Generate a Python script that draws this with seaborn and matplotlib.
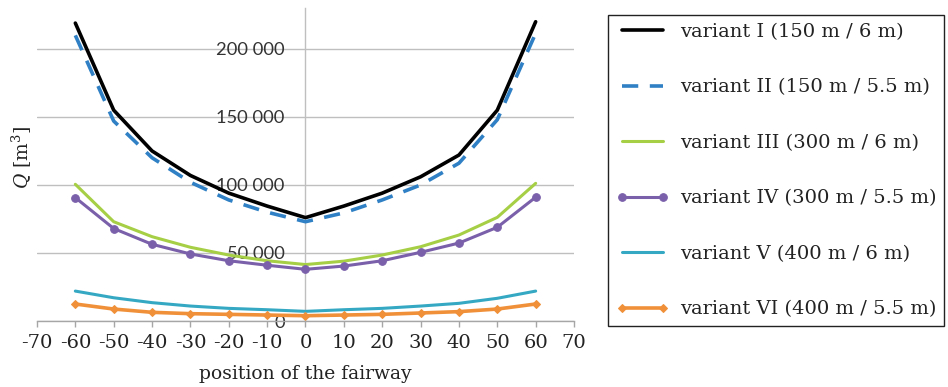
import matplotlib
matplotlib.use("Agg")
import matplotlib.pyplot as plt
import matplotlib.ticker as mticker
import numpy as np
import pandas as pd
import seaborn as sns

# Fairway positions (m)
positions = [-60, -50, -40, -30, -20, -10, 0, 10, 20, 30, 40, 50, 60]

# Dredging volume Q [m^3] for each variant
variant_1 = [219000, 155000, 125000, 107000, 94000, 84500, 76000, 84500, 94000, 106000, 122000, 155000, 220000]
variant_2 = [210000, 147000, 120000, 102000, 89000, 80000, 73000, 79500, 89000, 100000, 116000, 148000, 211500]
variant_3 = [100500, 73000, 62000, 54200, 48500, 44300, 41500, 44000, 48500, 54600, 63200, 76200, 101200]
variant_4 = [90700, 68000, 56400, 49300, 44300, 41000, 38000, 40400, 44300, 50500, 57300, 68900, 91000]
variant_5 = [22000, 17100, 13500, 11000, 9300, 8300, 7100, 8300, 9300, 11000, 13000, 16700, 22000]
variant_6 = [12500, 8800, 6400, 5400, 4900, 4400, 3900, 4400, 4900, 5900, 6900, 8800, 12500]

labels = [
    "variant I (150 m / 6 m)",
    "variant II (150 m / 5.5 m)",
    "variant III (300 m / 6 m)",
    "variant IV (300 m / 5.5 m)",
    "variant V (400 m / 6 m)",
    "variant VI (400 m / 5.5 m)",
]
series = [variant_1, variant_2, variant_3, variant_4, variant_5, variant_6]

y_ticks = [0, 50000, 100000, 150000, 200000]
x_ticks = [-70, -60, -50, -40, -30, -20, -10, 0, 10, 20, 30, 40, 50, 60, 70]

styles = [
    dict(color="#000000", lw=2.6),
    dict(color="#2f80c4", lw=2.6, dashes=(4.5, 3.2)),
    dict(color="#a6cf46", lw=2.2),
    dict(color="#7a5faa", lw=2.2, marker="o", ms=5.5),
    dict(color="#35a9c3", lw=2.2),
    dict(color="#f0913a", lw=2.6, marker="D", ms=4.5),
]

df = pd.DataFrame(
    [(x, v, lab) for lab, vals in zip(labels, series) for x, v in zip(positions, vals)],
    columns=["position", "Q", "variant"],
)

sns.set_style("white")
plt.rcParams["mathtext.fontset"] = "dejavuserif"
serif = "DejaVu Serif"
grid_grey = "#bfbfbf"
text_col = "#222222"

fig = plt.figure(figsize=(9.48, 3.87), dpi=100)
ax = fig.add_axes([0.039, 0.1705, 0.5665, 0.8085])

for lab, st in zip(labels, styles):
    sub = df[df["variant"] == lab]
    kw = dict(color=st["color"], linewidth=st["lw"], label=lab,
              solid_joinstyle="round", solid_capstyle="round")
    if "marker" in st:
        kw.update(marker=st["marker"], markersize=st["ms"],
                  markeredgecolor=st["color"], markerfacecolor=st["color"])
    line = sns.lineplot(data=sub, x="position", y="Q", ax=ax, **kw).lines[-1]
    if "dashes" in st:
        line.set_dashes(st["dashes"])
        line.set_dash_capstyle("butt")

ax.set_xlim(-70, 70)
ax.set_ylim(0, 230000)
ax.set_xticks(x_ticks)
ax.set_yticks(y_ticks)
ax.xaxis.set_major_formatter(mticker.FuncFormatter(lambda v, p: f"{int(v)}"))
ax.yaxis.set_major_formatter(mticker.FuncFormatter(
    lambda v, p: f"{int(v):,}".replace(",", " ")))

ax.grid(axis="y", color=grid_grey, linewidth=1.0)
ax.grid(axis="x", visible=False)
ax.set_axisbelow(True)

for side in ("top", "right"):
    ax.spines[side].set_visible(False)
ax.spines["left"].set_position(("data", 0))
ax.spines["left"].set_color(grid_grey)
ax.spines["left"].set_linewidth(1.0)
ax.spines["left"].set_zorder(0.5)
ax.spines["bottom"].set_color("#a6a6a6")
ax.spines["bottom"].set_linewidth(1.0)

ax.tick_params(axis="y", length=0, pad=15, labelsize=13.2,
               labelfontfamily="Lato", labelcolor="#333333")
ax.tick_params(axis="x", length=4, width=1, color="#a6a6a6", pad=5, direction="out",
               bottom=True, labelsize=14, labelfontfamily=serif, labelcolor=text_col)

ax.set_xlabel("position of the fairway", fontfamily=serif, fontsize=13.5, color=text_col)
ax.xaxis.set_label_coords(0.5, -0.142)
ax.set_ylabel("$Q$ [m$^3$]", fontfamily=serif, fontsize=13.5, color=text_col)
ax.yaxis.set_label_coords(-0.006, 0.524)

if ax.get_legend():
    ax.get_legend().remove()
handles, labs = ax.get_legend_handles_labels()
leg = fig.legend(handles, labs, loc="upper left", bbox_to_anchor=(0.6414, 0.9612),
                 prop={"family": serif, "size": 14.0}, frameon=True, fancybox=False,
                 edgecolor=text_col, framealpha=1, handlelength=2.73, handletextpad=0.57,
                 labelspacing=1.93, borderpad=0.4, numpoints=2, borderaxespad=0)
leg.get_frame().set_linewidth(1.0)
for t in leg.get_texts():
    t.set_color(text_col)

fig.savefig("out.png", dpi=100)
